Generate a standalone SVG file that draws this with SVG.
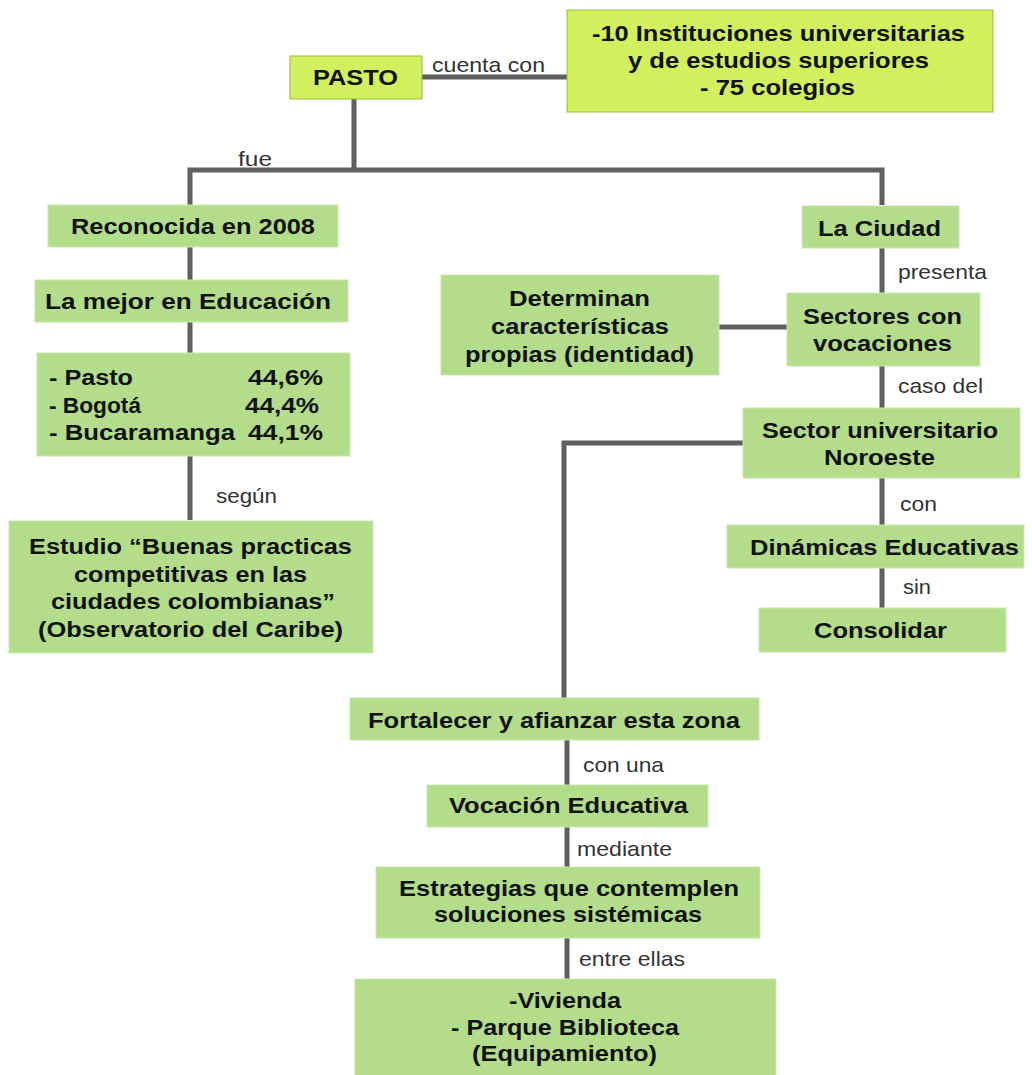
<svg xmlns="http://www.w3.org/2000/svg" width="1032" height="1075" viewBox="0 0 1032 1075">
<style>
.g{fill:#b3dd8b;stroke:#c9e8ad;stroke-width:1}
.y{fill:#d2f05e;stroke:#9bb83a;stroke-width:1}
.t{font-family:"Liberation Sans",Arial,sans-serif;font-weight:bold;font-size:22px;fill:#111}
.l{font-family:"Liberation Sans",Arial,sans-serif;font-size:21px;fill:#333}
.c{stroke:#5f5f5f;stroke-width:5;fill:none}
</style>
<rect width="1032" height="1075" fill="#fff"/>
<g id="connectors">
<path class="c" d="M422 77H568"/>
<path class="c" d="M354 99V170M190 205V170H882V205"/>
<path class="c" d="M190 247V281M190 322V353M190 456V520"/>
<path class="c" d="M882 247V293M719 327H787M882 366V408M882 478V525M882 568V608"/>
<path class="c" d="M743 443H564V698"/>
<path class="c" d="M567 740V785M567 827V867M567 938V979"/>
<text class="l" x="432" y="72" textLength="113" lengthAdjust="spacingAndGlyphs">cuenta con</text>
<text class="l" x="238" y="166" textLength="34" lengthAdjust="spacingAndGlyphs">fue</text>
<text class="l" x="216" y="503" textLength="61" lengthAdjust="spacingAndGlyphs">según</text>
<text class="l" x="898" y="279" textLength="89" lengthAdjust="spacingAndGlyphs">presenta</text>
<text class="l" x="898" y="393" textLength="85" lengthAdjust="spacingAndGlyphs">caso del</text>
<text class="l" x="900" y="511" textLength="37" lengthAdjust="spacingAndGlyphs">con</text>
<text class="l" x="903" y="594" textLength="28" lengthAdjust="spacingAndGlyphs">sin</text>
<text class="l" x="583" y="772" textLength="81" lengthAdjust="spacingAndGlyphs">con una</text>
<text class="l" x="577" y="856" textLength="95" lengthAdjust="spacingAndGlyphs">mediante</text>
<text class="l" x="579" y="966" textLength="106" lengthAdjust="spacingAndGlyphs">entre ellas</text>
</g>
<g id="pasto"><rect class="y" x="290" y="56" width="132" height="43"/><text class="t" x="313" y="85" textLength="85" lengthAdjust="spacingAndGlyphs">PASTO</text></g>
<g id="instituciones"><rect class="y" x="567" y="10" width="426" height="102"/>
<text class="t" x="592" y="41" textLength="373" lengthAdjust="spacingAndGlyphs">-10 Instituciones universitarias</text>
<text class="t" x="628" y="68" textLength="301" lengthAdjust="spacingAndGlyphs">y de estudios superiores</text>
<text class="t" x="700" y="95" textLength="155" lengthAdjust="spacingAndGlyphs">- 75 colegios</text></g>
<g id="reconocida"><rect class="g" x="48" y="205" width="290" height="42"/><text class="t" x="71" y="234" textLength="244" lengthAdjust="spacingAndGlyphs">Reconocida en 2008</text></g>
<g id="mejor"><rect class="g" x="35" y="280" width="313" height="42"/><text class="t" x="45" y="309" textLength="286" lengthAdjust="spacingAndGlyphs">La mejor en Educación</text></g>
<g id="ciudades"><rect class="g" x="37" y="353" width="313" height="103"/>
<text class="t" x="49" y="385" textLength="84" lengthAdjust="spacingAndGlyphs">- Pasto</text><text class="t" x="248" y="385" textLength="75" lengthAdjust="spacingAndGlyphs">44,6%</text>
<text class="t" x="49" y="413" textLength="92" lengthAdjust="spacingAndGlyphs">- Bogotá</text><text class="t" x="245" y="413" textLength="74" lengthAdjust="spacingAndGlyphs">44,4%</text>
<text class="t" x="49" y="440" textLength="186" lengthAdjust="spacingAndGlyphs">- Bucaramanga</text><text class="t" x="248" y="440" textLength="75" lengthAdjust="spacingAndGlyphs">44,1%</text></g>
<g id="estudio"><rect class="g" x="9" y="521" width="364" height="132"/>
<text class="t" x="29" y="554" textLength="323" lengthAdjust="spacingAndGlyphs">Estudio “Buenas practicas</text>
<text class="t" x="74" y="582" textLength="233" lengthAdjust="spacingAndGlyphs">competitivas en las</text>
<text class="t" x="51" y="609" textLength="284" lengthAdjust="spacingAndGlyphs">ciudades colombianas”</text>
<text class="t" x="38" y="637" textLength="305" lengthAdjust="spacingAndGlyphs">(Observatorio del Caribe)</text></g>
<g id="laciudad"><rect class="g" x="802" y="206" width="157" height="42"/><text class="t" x="818" y="236" textLength="123" lengthAdjust="spacingAndGlyphs">La Ciudad</text></g>
<g id="determinan"><rect class="g" x="441" y="275" width="278" height="100"/>
<text class="t" x="509" y="306" textLength="141" lengthAdjust="spacingAndGlyphs">Determinan</text>
<text class="t" x="491" y="334" textLength="178" lengthAdjust="spacingAndGlyphs">características</text>
<text class="t" x="465" y="362" textLength="229" lengthAdjust="spacingAndGlyphs">propias (identidad)</text></g>
<g id="sectores"><rect class="g" x="787" y="293" width="193" height="73"/>
<text class="t" x="803" y="324" textLength="159" lengthAdjust="spacingAndGlyphs">Sectores con</text>
<text class="t" x="813" y="351" textLength="139" lengthAdjust="spacingAndGlyphs">vocaciones</text></g>
<g id="sector-univ"><rect class="g" x="743" y="408" width="277" height="70"/>
<text class="t" x="762" y="438" textLength="236" lengthAdjust="spacingAndGlyphs">Sector universitario</text>
<text class="t" x="824" y="465" textLength="111" lengthAdjust="spacingAndGlyphs">Noroeste</text></g>
<g id="dinamicas"><rect class="g" x="727" y="525" width="297" height="43"/><text class="t" x="750" y="555" textLength="269" lengthAdjust="spacingAndGlyphs">Dinámicas Educativas</text></g>
<g id="consolidar"><rect class="g" x="759" y="608" width="247" height="44"/><text class="t" x="814" y="638" textLength="133" lengthAdjust="spacingAndGlyphs">Consolidar</text></g>
<g id="fortalecer"><rect class="g" x="350" y="698" width="409" height="42"/><text class="t" x="368" y="728" textLength="372" lengthAdjust="spacingAndGlyphs">Fortalecer y afianzar esta zona</text></g>
<g id="vocacion"><rect class="g" x="427" y="785" width="281" height="42"/><text class="t" x="449" y="813" textLength="239" lengthAdjust="spacingAndGlyphs">Vocación Educativa</text></g>
<g id="estrategias"><rect class="g" x="376" y="867" width="384" height="71"/>
<text class="t" x="399" y="896" textLength="340" lengthAdjust="spacingAndGlyphs">Estrategias que contemplen</text>
<text class="t" x="434" y="922" textLength="268" lengthAdjust="spacingAndGlyphs">soluciones sistémicas</text></g>
<g id="vivienda"><rect class="g" x="355" y="979" width="421" height="100"/>
<text class="t" x="509" y="1008" textLength="112" lengthAdjust="spacingAndGlyphs">-Vivienda</text>
<text class="t" x="451" y="1035" textLength="228" lengthAdjust="spacingAndGlyphs">- Parque Biblioteca</text>
<text class="t" x="472" y="1061" textLength="185" lengthAdjust="spacingAndGlyphs">(Equipamiento)</text></g>
</svg>
